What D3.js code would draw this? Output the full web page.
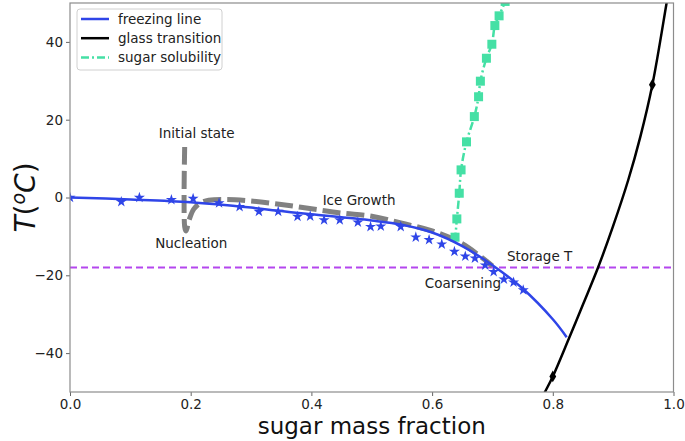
<!DOCTYPE html>
<html>
<head>
<meta charset="utf-8">
<script src="https://cdn.jsdelivr.net/npm/d3@7"></script>
<style>
  body { margin: 0; background: #fff; }
  svg { font-family: "DejaVu Sans", sans-serif; }
</style>
</head>
<body>
<div id="chart"></div>
<script>
// freezing line (sugar mass fraction, T in C)
const freezeX = [0, 0.1, 0.2, 0.3, 0.35, 0.4, 0.5, 0.55, 0.6, 0.65, 0.7, 0.75, 0.8, 0.823];
const freezeT = [0, -0.5, -1.2, -2.6, -3.5, -4.3, -5.9, -7.0, -9.0, -12.5, -17.4, -23.4, -31.3, -35.9];

// measured freezing points (stars)
const starX = [0, 0.085, 0.115, 0.168, 0.204, 0.247, 0.281, 0.313, 0.345, 0.377, 0.398, 0.421, 0.447,
               0.477, 0.498, 0.515, 0.548, 0.573, 0.595, 0.616, 0.637, 0.655, 0.671, 0.688, 0.702,
               0.719, 0.735, 0.751];
const starT = [0, -1.1, 0.0, -0.6, -0.3, -1.4, -2.4, -3.6, -3.6, -4.9, -4.8, -5.8, -5.8,
               -6.4, -7.5, -7.4, -7.5, -10.2, -10.9, -12.0, -13.9, -15.1, -15.6, -17.4, -19.1,
               -21.0, -21.8, -23.8];

// glass transition
const glassX = [0.78, 0.787, 0.80, 0.826, 0.85, 0.875, 0.90, 0.925, 0.945, 0.965, 0.988, 0.995];
const glassT = [-52.2, -50, -46, -36.5, -27.5, -18, -7.3, 4.5, 15.6, 29.0, 49.5, 56];
const glassMarkX = [0.80, 0.965];
const glassMarkT = [-46, 29.0];

// sugar solubility
const solX = [0.636, 0.638, 0.641, 0.645, 0.648, 0.657, 0.670, 0.677, 0.680, 0.690, 0.699, 0.704, 0.711, 0.721, 0.726];
const solT = [-11, -10.2, -5.5, 1.1, 7.1, 14.3, 20.8, 25.9, 29.9, 35.8, 39.4, 44.2, 46.7, 50.4, 53];
const solMarkX = [0.638, 0.641, 0.645, 0.648, 0.657, 0.670, 0.677, 0.680, 0.690, 0.699, 0.704, 0.711, 0.721];
const solMarkT = [-10.2, -5.5, 1.1, 7.1, 14.3, 20.8, 25.9, 29.9, 35.8, 39.4, 44.2, 46.7, 50.4];

// process path (grey dashed)
const pathX = [0.19, 0.19, 0.192, 0.198, 0.205, 0.215, 0.23, 0.26, 0.3, 0.35, 0.4, 0.45, 0.5, 0.55, 0.6, 0.65, 0.7];
const pathT = [13, -7.5, -8.6, -5.5, -3, -1.5, -0.7, -0.5, -0.9, -1.8, -2.9, -4.0, -4.8, -6.6, -8.6, -11.9, -17.6];

const storageT = -18;

const xTicks = [0, 0.2, 0.4, 0.6, 0.8, 1.0];
const yTicks = [-40, -20, 0, 20, 40];

const legendLabels = ["freezing line", "glass transition", "sugar solubility"];
const notes = [
  { text: "Initial state", x: 0.21, y: 15.3, anchor: "middle" },
  { text: "Nucleation", x: 0.201, y: -13, anchor: "middle" },
  { text: "Ice Growth", x: 0.479, y: -1.9, anchor: "middle" },
  { text: "Storage T", x: 0.724, y: -16.3, anchor: "start" },
  { text: "Coarsening", x: 0.588, y: -23.3, anchor: "start" }
];

const W = 685, H = 441;
const margin = { top: 3, right: 11.5, bottom: 49, left: 70 };
const width = W - margin.left - margin.right;
const height = H - margin.top - margin.bottom;

const blue = "#2f45e8", black = "#000", teal = "#45e0a5", grey = "#7a7a7a", violet = "#b446ee";

const svgRoot = d3.select("#chart").append("svg")
    .attr("width", W)
    .attr("height", H);

const svg = svgRoot.append("g")
    .attr("transform", `translate(${margin.left},${margin.top})`);

const x = d3.scaleLinear().domain([0, 1]).range([0, width]);
const y = d3.scaleLinear().domain([-50, 50]).range([height, 0]);

svg.append("clipPath").attr("id", "clip")
  .append("rect").attr("width", width).attr("height", height);

const plot = svg.append("g").attr("clip-path", "url(#clip)");

const zip = (xs, ys) => xs.map((v, i) => [v, ys[i]]);
const line = d3.line().x(d => x(d[0])).y(d => y(d[1])).curve(d3.curveCatmullRom.alpha(0.5));

// storage temperature
plot.append("line")
    .attr("x1", 0).attr("x2", width)
    .attr("y1", y(storageT)).attr("y2", y(storageT))
    .attr("stroke", violet).attr("stroke-width", 2)
    .attr("stroke-dasharray", "7,4");

// process path
plot.append("path")
    .datum(zip(pathX, pathT))
    .attr("d", line)
    .attr("fill", "none")
    .attr("stroke", grey)
    .attr("stroke-width", 5)
    .attr("stroke-opacity", 0.95)
    .attr("stroke-dasharray", "18,6");

// sugar solubility
plot.append("path")
    .datum(zip(solX, solT))
    .attr("d", line)
    .attr("fill", "none")
    .attr("stroke", teal)
    .attr("stroke-width", 2.5)
    .attr("stroke-dasharray", "8,3,2,3");

plot.selectAll(".sol")
    .data(zip(solMarkX, solMarkT))
    .enter().append("rect")
    .attr("x", d => x(d[0]) - 4.5)
    .attr("y", d => y(d[1]) - 4.5)
    .attr("width", 9).attr("height", 9)
    .attr("fill", teal);

// glass transition
plot.append("path")
    .datum(zip(glassX, glassT))
    .attr("d", line)
    .attr("fill", "none")
    .attr("stroke", black)
    .attr("stroke-width", 2.5);

plot.selectAll(".gm")
    .data(zip(glassMarkX, glassMarkT))
    .enter().append("path")
    .attr("d", d3.symbol().type(d3.symbolDiamond).size(40))
    .attr("transform", d => `translate(${x(d[0])},${y(d[1])})`)
    .attr("fill", black);

// freezing line
plot.append("path")
    .datum(zip(freezeX, freezeT))
    .attr("d", line)
    .attr("fill", "none")
    .attr("stroke", blue)
    .attr("stroke-width", 2.5);

plot.selectAll(".star")
    .data(zip(starX, starT))
    .enter().append("path")
    .attr("d", d3.symbol().type(d3.symbolStar).size(38))
    .attr("transform", d => `translate(${x(d[0])},${y(d[1])})`)
    .attr("fill", blue);

// annotations
svg.selectAll(".note")
    .data(notes)
    .enter().append("text")
    .attr("x", d => x(d.x))
    .attr("y", d => y(d.y))
    .attr("text-anchor", d => d.anchor)
    .style("font-size", "13.5px")
    .attr("fill", "#222")
    .text(d => d.text);

// axes
const xAxis = svg.append("g")
    .attr("transform", `translate(0,${height})`)
    .call(d3.axisBottom(x).tickValues(xTicks).tickFormat(d3.format(".1f")).tickSizeOuter(0).tickSize(4));
const yAxis = svg.append("g")
    .call(d3.axisLeft(y).tickValues(yTicks).tickFormat(d => d < 0 ? "\u2212" + Math.abs(d) : d).tickSizeOuter(0).tickSize(4));

[xAxis, yAxis].forEach(a => {
  a.select(".domain").remove();
  a.selectAll("line").attr("stroke", "#666");
  a.selectAll("text").style("font-size", "13.5px").attr("fill", "#222")
    .style("font-family", "DejaVu Sans, sans-serif");
});

// frame
svg.append("rect")
    .attr("width", width).attr("height", height)
    .attr("fill", "none").attr("stroke", "#8c8c8c").attr("stroke-width", 1.2);

// axis labels
svgRoot.append("text")
    .attr("x", margin.left + width / 2)
    .attr("y", 434)
    .attr("text-anchor", "middle")
    .style("font-size", "23px")
    .attr("fill", "#111")
    .text("sugar mass fraction");

const yl = svgRoot.append("text")
    .attr("transform", `translate(35,${margin.top + y(0)}) rotate(-90)`)
    .attr("text-anchor", "middle")
    .style("font-size", "28px")
    .attr("fill", "#111");
yl.append("tspan").style("font-style", "italic").text("T");
yl.append("tspan").text("(");
yl.append("tspan").style("font-style", "italic").style("font-size", "19px").attr("dy", "-10").text("o");
yl.append("tspan").style("font-style", "italic").attr("dy", "10").text("C");
yl.append("tspan").text(")");

// legend
const legend = svg.append("g").attr("transform", "translate(7,6)");
legend.append("rect")
    .attr("width", 145).attr("height", 61).attr("rx", 3)
    .attr("fill", "#fff").attr("fill-opacity", 0.8)
    .attr("stroke", "#d0d0d0");
const legendStyle = [
  { color: blue, dash: null },
  { color: black, dash: null },
  { color: teal, dash: "8,3,2,3" }
];
legendLabels.forEach((label, i) => {
  const row = legend.append("g").attr("transform", `translate(0,${10 + i * 19.2})`);
  row.append("line")
      .attr("x1", 4).attr("x2", 32)
      .attr("stroke", legendStyle[i].color)
      .attr("stroke-width", 2.5)
      .attr("stroke-dasharray", legendStyle[i].dash);
  row.append("text")
      .attr("x", 41).attr("y", 5)
      .style("font-size", "13.5px")
      .attr("fill", "#222")
      .text(label);
});
</script>
</body>
</html>
